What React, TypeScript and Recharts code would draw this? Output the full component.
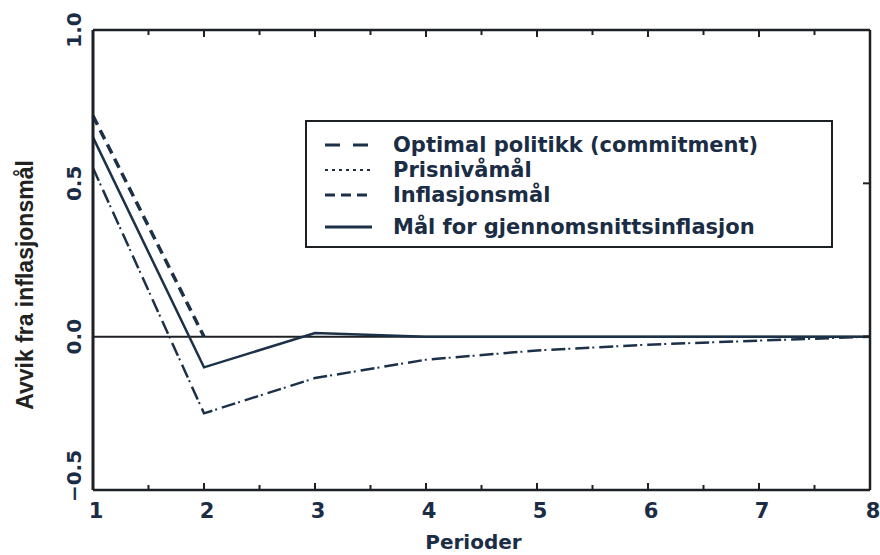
import React from 'react';
import { LineChart, Line, XAxis, YAxis, ReferenceLine, Label } from 'recharts';

const perioder = [1, 2, 3, 4, 5, 6, 7, 8];
const optimal = [0.55, -0.25, -0.135, -0.075, -0.045, -0.026, -0.013, 0];
const prisnivaa = [0.55, -0.25, -0.135, -0.075, -0.045, -0.026, -0.013, 0];
const inflasjon = [0.72, 0, null, null, null, null, null, null];
const snitt = [0.65, -0.1, 0.012, 0, 0, 0, 0, 0];

const seriesNames = [
  'Optimal politikk (commitment)',
  'Prisnivåmål',
  'Inflasjonsmål',
  'Mål for gjennomsnittsinflasjon',
];
const xTicks = [1, 1.5, 2, 2.5, 3, 3.5, 4, 4.5, 5, 5.5, 6, 6.5, 7, 7.5, 8];
const yTicks = [-0.5, 0, 0.5, 1];

const data = perioder.map((p, i) => ({
  p,
  optimal: optimal[i],
  prisnivaa: prisnivaa[i],
  inflasjon: inflasjon[i],
  snitt: snitt[i],
}));

const AXIS = '#1e2124';
const LINE = '#1c3148';
const TEXT = '#1b2d45';
const FONT = '"DejaVu Sans", sans-serif';

const legendDash = ['15 13', '3 4', '10 6', undefined];
const legendTops = [23, 48, 73, 105];

const BottomTick = ({ x, y, payload }: any) => {
  const v = payload.value;
  const major = Number.isInteger(v);
  return (
    <g>
      <line x1={x} x2={x} y1={y} y2={y - (major ? 7 : 5)} stroke={AXIS} strokeWidth={2} />
      {major && (
        <text x={x + 3} y={y + 28} textAnchor="middle" fill={TEXT} fontFamily={FONT} fontWeight="bold" fontSize={21}>
          {v}
        </text>
      )}
    </g>
  );
};

const TopTick = ({ x, y, payload }: any) => {
  const major = Number.isInteger(payload.value);
  return <line x1={x} x2={x} y1={y} y2={y + (major ? 7 : 5)} stroke={AXIS} strokeWidth={2} />;
};

const LeftTick = ({ x, y, payload }: any) => {
  const v = payload.value;
  const lbl = v < 0 ? '\u2212' + Math.abs(v).toFixed(1) : v.toFixed(1);
  const cy = v === -0.5 ? y - 14 : y;
  const tx = x - 12;
  return (
    <text
      x={tx}
      y={cy}
      transform={`rotate(-90, ${tx}, ${cy})`}
      textAnchor="middle"
      fill={TEXT}
      fontFamily={FONT}
      fontWeight="bold"
      fontSize={20}
    >
      {lbl}
    </text>
  );
};

const RightTick = ({ x, y }: any) => (
  <line x1={x} x2={x - 7} y1={y} y2={y} stroke={AXIS} strokeWidth={2} />
);

const LegendBox = () => (
  <div
    style={{
      position: 'absolute',
      left: 305,
      top: 120,
      width: 524,
      height: 124,
      border: `2px solid ${AXIS}`,
      background: '#fff',
    }}
  >
    {seriesNames.map((name, i) => (
      <div key={name} style={{ position: 'absolute', left: 0, top: legendTops[i] - 12, height: 24, width: 520 }}>
        <svg width={80} height={24} style={{ position: 'absolute', left: 0, top: 0 }}>
          <line
            x1={18}
            x2={65}
            y1={12}
            y2={12}
            stroke={LINE}
            strokeWidth={i === 1 ? 2 : 3}
            strokeDasharray={legendDash[i]}
          />
        </svg>
        <span
          style={{
            position: 'absolute',
            left: 86,
            top: 0,
            lineHeight: '24px',
            fontFamily: FONT,
            fontWeight: 'bold',
            fontSize: 21,
            color: TEXT,
            whiteSpace: 'nowrap',
          }}
        >
          {name}
        </span>
      </div>
    ))}
  </div>
);

export default function App() {
  return (
    <div style={{ position: 'absolute', left: 0, top: 0, width: 880, height: 555, background: '#fff' }}>
      <LineChart width={880} height={555} data={data} margin={{ top: 29, right: 9, bottom: 0, left: 0 }}>
        <XAxis
          dataKey="p"
          type="number"
          domain={[1, 8]}
          ticks={xTicks}
          interval={0}
          height={65}
          tickSize={0}
          tickMargin={0}
          tickLine={false}
          tick={<BottomTick />}
          axisLine={{ stroke: AXIS, strokeWidth: 2.5 }}
        >
          <Label
            value="Perioder"
            position="insideBottom"
            offset={6}
            dx={-8}
            fill={TEXT}
            style={{ fontFamily: FONT, fontWeight: 'bold', fontSize: 20 }}
          />
        </XAxis>
        <XAxis
          xAxisId="top"
          dataKey="p"
          type="number"
          orientation="top"
          domain={[1, 8]}
          ticks={xTicks}
          interval={0}
          height={1}
          tickSize={0}
          tickMargin={0}
          tickLine={false}
          tick={<TopTick />}
          axisLine={{ stroke: AXIS, strokeWidth: 2.5 }}
        />
        <YAxis
          type="number"
          domain={[-0.5, 1]}
          ticks={yTicks}
          interval={0}
          width={93}
          tickSize={0}
          tickMargin={0}
          tickLine={false}
          tick={<LeftTick />}
          axisLine={{ stroke: AXIS, strokeWidth: 3 }}
        >
          <Label
            content={({ viewBox }: any) => {
              const cx = 33;
              const cy = viewBox.y + viewBox.height / 2 + 25;
              return (
                <text
                  x={cx}
                  y={cy}
                  transform={`rotate(-90, ${cx}, ${cy})`}
                  textAnchor="middle"
                  fill="#222"
                  fontFamily='"Liberation Sans", Arial, sans-serif'
                  fontWeight="bold"
                  fontSize={23}
                >
                  Avvik fra inflasjonsmål
                </text>
              );
            }}
          />
        </YAxis>
        <YAxis
          yAxisId="right"
          type="number"
          orientation="right"
          domain={[-0.5, 1]}
          ticks={yTicks}
          interval={0}
          width={1}
          tickSize={0}
          tickMargin={0}
          tickLine={false}
          tick={<RightTick />}
          axisLine={{ stroke: AXIS, strokeWidth: 2.5 }}
        />
        <ReferenceLine y={0} stroke={AXIS} strokeWidth={2} />
        <Line
          dataKey="optimal"
          name={seriesNames[0]}
          stroke={LINE}
          strokeWidth={2.5}
          strokeDasharray="14 10"
          dot={false}
          isAnimationActive={false}
        />
        <Line
          dataKey="prisnivaa"
          name={seriesNames[1]}
          stroke={LINE}
          strokeWidth={2}
          strokeDasharray="2 22"
          strokeDashoffset={-17}
          dot={false}
          isAnimationActive={false}
        />
        <Line
          dataKey="inflasjon"
          name={seriesNames[2]}
          stroke={LINE}
          strokeWidth={3.5}
          strokeDasharray="10 6"
          dot={false}
          isAnimationActive={false}
        />
        <Line
          dataKey="snitt"
          name={seriesNames[3]}
          xAxisId="top"
          yAxisId="right"
          stroke={LINE}
          strokeWidth={2.5}
          dot={false}
          isAnimationActive={false}
        />
      </LineChart>
      <LegendBox />
    </div>
  );
}
